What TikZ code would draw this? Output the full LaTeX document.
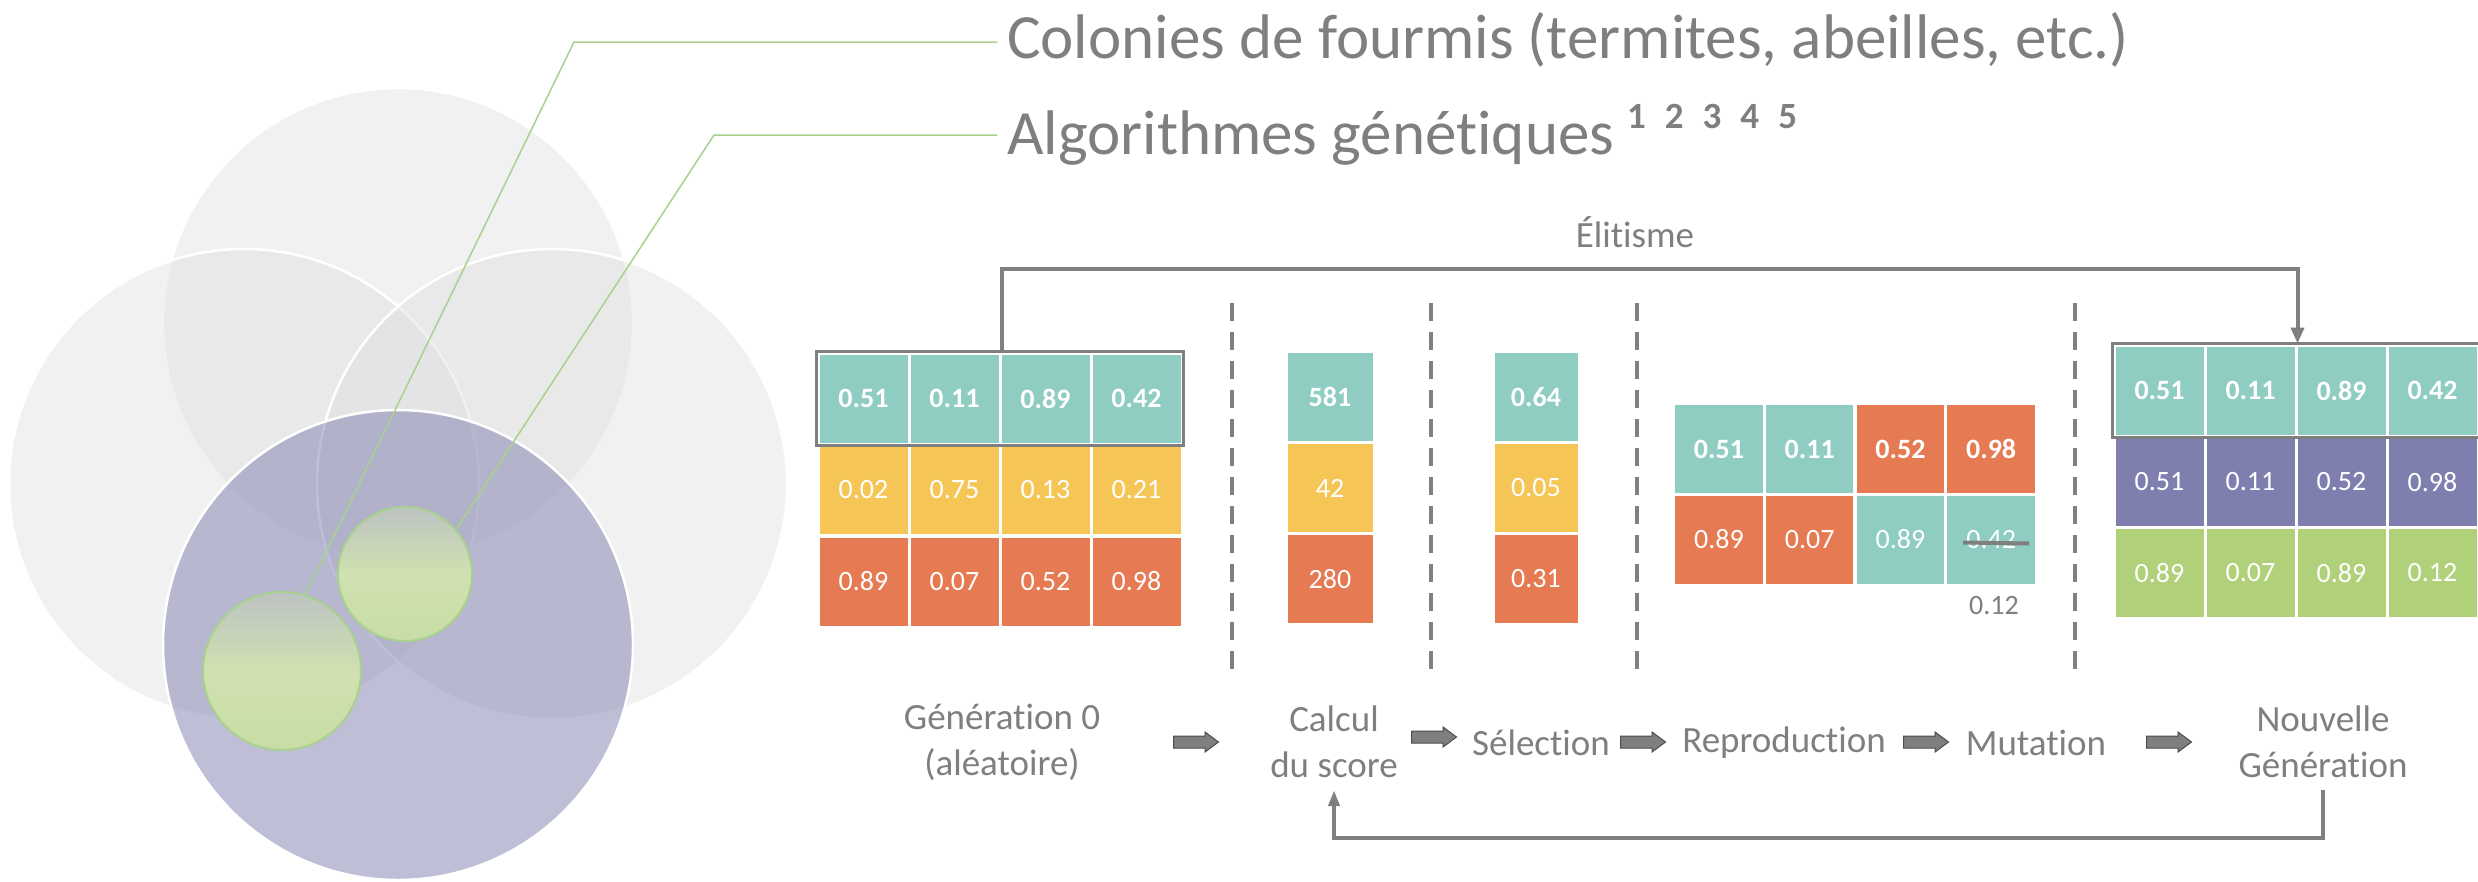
\documentclass[tikz,border=0pt]{standalone}
\usepackage{fontspec}
\setmainfont{Carlito}[Ligatures={NoCommon}]
\usetikzlibrary{arrows.meta}
\definecolor{cteal}{HTML}{8FCCC1}
\definecolor{cyel}{HTML}{F5C656}
\definecolor{cora}{HTML}{E57A53}
\definecolor{cpur}{HTML}{7F7FAF}
\definecolor{cgrn}{HTML}{B0D07A}
\definecolor{cgry}{HTML}{7F7F7F}
\definecolor{cvenn}{HTML}{DDDDDD}
\definecolor{cline}{HTML}{A9D18E}
\definecolor{cgtop}{HTML}{BDC3C2}
\definecolor{cgmid}{HTML}{CFE1B0}
\definecolor{cgbot}{HTML}{C8DDA5}
\tikzset{
  cell/.style={minimum width=91pt, minimum height=91pt, inner sep=0pt, draw=white, line width=3pt, text=white, font=\fontsize{28}{30}\selectfont},
  bcell/.style={cell, font=\fontsize{28}{30}\selectfont\bfseries},
  lbl/.style={text=cgry, font=\fontsize{37}{46}\selectfont, align=center, inner sep=0pt},
  sepline/.style={draw=cgry, line width=4pt, dash pattern=on 18pt off 11pt},
  conn/.style={draw=cgry, line width=4pt},
  rowbox/.style={draw=cgry, line width=2.5pt},
  pics/blockarr/.style={code={
    \draw[fill=cgry, draw=cgry!60!black, line width=1pt]
      (-22.5pt,-6pt) -- (9pt,-6pt) -- (9pt,-10pt) -- (22.5pt,0pt) -- (9pt,10pt) -- (9pt,6pt) -- (-22.5pt,6pt) -- cycle;}},
  venn/.style={fill=cvenn, fill opacity=0.4, draw=white, line width=2.5pt},
  leader/.style={draw=cline, line width=1.5pt},
  small/.style={circle, inner sep=0pt, draw=cline, line width=2pt, top color=cgtop, bottom color=cgbot, middle color=cgmid},
  toptxt/.style={anchor=base west, text=cgry, font=\fontsize{63}{70}\selectfont, inner sep=0pt}
}
\begin{document}
\begin{tikzpicture}[x=1pt,y=-1pt]
\fill[white] (0,0) rectangle (2478,881);
\useasboundingbox (0,0) rectangle (2478,881);
% Venn
\draw[venn] (398,323) circle[radius=235];
\draw[venn] (244,484) circle[radius=235];
\draw[venn] (552,484) circle[radius=235];
\draw[fill=cpur, fill opacity=0.5, draw=white, line width=2.5pt] (398,645) circle[radius=235];
\node[small, minimum size=134pt] (ga) at (405,574) {};
\node[small, minimum size=158pt] (gb) at (282,671) {};
% top texts
\node[toptxt] (t1) at (1007,58) {Colonies de fourmis (termites, abeilles, etc.)};
\node[toptxt] (t2) at (1007,154) {Algorithmes génétiques};
\node[anchor=base west, text=cgry, font=\fontsize{37}{40}\selectfont\bfseries, inner sep=0pt] (t2s) at (1627,128) {1\hspace{19pt}2\hspace{19pt}3\hspace{19pt}4\hspace{19pt}5};
\coordinate (k1) at (574,42);
\coordinate (k2) at (714,135);
\draw[leader] (gb.73) -- (k1) -- ([xshift=-10pt]k1 -| t1.west);
\draw[leader] (ga.41) -- (k2) -- ([xshift=-10pt]k2 -| t2.west);
% Generation 0
\foreach \v [count=\c] in {0.51,0.11,0.89,0.42}
  \node[bcell, fill=cteal] (g0-1-\c) at ({863.5+91*(\c-1)},398.5) {\v};
\foreach \v [count=\c] in {0.02,0.75,0.13,0.21}
  \node[cell, fill=cyel] (g0-2-\c) at ({863.5+91*(\c-1)},490) {\v};
\foreach \v [count=\c] in {0.89,0.07,0.52,0.98}
  \node[cell, fill=cora] (g0-3-\c) at ({863.5+91*(\c-1)},581.5) {\v};
\draw[rowbox] (g0-1-1.north west) rectangle (g0-1-4.south east);
% Calcul du score
\node[bcell, fill=cteal, minimum width=88pt] (sc-1) at (1330,397) {581};
\node[cell, fill=cyel, minimum width=88pt] (sc-2) at (1330,488) {42};
\node[cell, fill=cora, minimum width=88pt] (sc-3) at (1330,579) {280};
% Selection
\node[bcell, fill=cteal, minimum width=86pt] (se-1) at (1536,397) {0.64};
\node[cell, fill=cyel, minimum width=86pt] (se-2) at (1536,488) {0.05};
\node[cell, fill=cora, minimum width=86pt] (se-3) at (1536,579) {0.31};
% Reproduction
\foreach \v/\col [count=\c] in {0.51/cteal,0.11/cteal,0.52/cora,0.98/cora}
  \node[bcell, fill=\col, minimum width=90.5pt] (rp-1-\c) at ({1719+90.7*(\c-1)},449) {\v};
\foreach \v/\col [count=\c] in {0.89/cora,0.07/cora,0.89/cteal,0.42/cteal}
  \node[cell, fill=\col, minimum width=90.5pt] (rp-2-\c) at ({1719+90.7*(\c-1)},539.5) {\v};
\draw[draw=cgry, line width=4pt] ([xshift=-28pt,yshift=-3pt]rp-2-4.center) -- ([xshift=38pt,yshift=-4pt]rp-2-4.center);
\node[text=cgry, font=\fontsize{28}{30}\selectfont, inner sep=0pt] (mut12) at (1994,606) {0.12};
% Nouvelle generation
\foreach \v [count=\c] in {0.51,0.11,0.89,0.42}
  \node[bcell, fill=cteal] (ng-1-\c) at ({2159.5+91*(\c-1)},390.5) {\v};
\foreach \v [count=\c] in {0.51,0.11,0.52,0.98}
  \node[cell, fill=cpur] (ng-2-\c) at ({2159.5+91*(\c-1)},482) {\v};
\foreach \v [count=\c] in {0.89,0.07,0.89,0.12}
  \node[cell, fill=cgrn] (ng-3-\c) at ({2159.5+91*(\c-1)},573) {\v};
\draw[rowbox] (ng-1-1.north west) rectangle (ng-1-4.south east);
% separators
\foreach \x in {1232,1431,1637,2075}
  \draw[sepline] (\x,303) -- (\x,670);
% Elitisme
\node[lbl] (elit) at (1635,232) {Élitisme};
\draw[conn, -{Triangle[length=16pt,width=13pt]}] (g0-1-2.north east) -- ++(0,-83) -| (ng-1-2.north east);
% bottom labels
\node[lbl] (gen0l) at (1002,742) {Génération 0\\(aléatoire)};
\node[lbl] (calc) at (1334,742) {Calcul\\du score};
\node[lbl] (sel) at (1541,743) {Sélection};
\node[lbl] (rep) at (1784,743) {Reproduction};
\node[lbl] (mut) at (2036,743) {Mutation};
\node[lbl] (ngl) at (2323,742) {Nouvelle\\Génération};
\pic (a1) at (1196,742) {blockarr};
\pic (a2) at (1434,737) {blockarr};
\pic (a3) at (1643,742) {blockarr};
\pic (a4) at (1926,742) {blockarr};
\pic (a5) at (2169,742) {blockarr};
\draw[conn, -{Triangle[length=16pt,width=11pt]}] ([yshift=-12pt]ngl.south) -- ++(0,48) -| ([yshift=-12pt]calc.south);
\end{tikzpicture}
\end{document}
